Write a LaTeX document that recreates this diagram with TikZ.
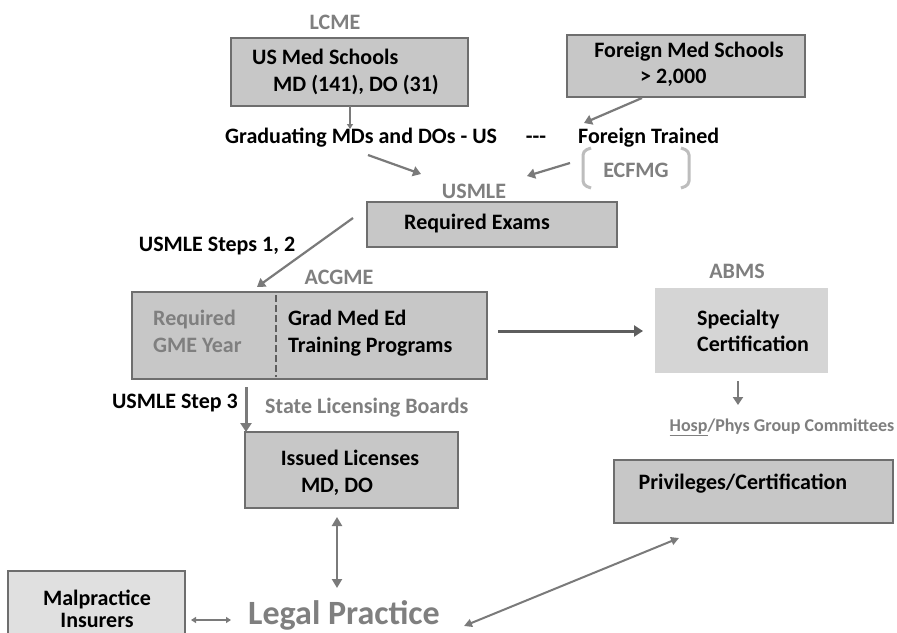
\documentclass[tikz,border=0pt]{standalone}
\usepackage{fontspec}
\setmainfont{Carlito}
\usetikzlibrary{arrows.meta}
\definecolor{boxfill}{HTML}{C7C7C7}
\definecolor{boxline}{HTML}{6E6E6E}
\definecolor{lightfill}{HTML}{D5D5D5}
\definecolor{palefill}{HTML}{E0E0E0}
\definecolor{labelgray}{HTML}{7F7F7F}
\definecolor{arrowgray}{HTML}{7A7A7A}
\definecolor{darkarrow}{HTML}{5E5E5E}
\definecolor{brack}{HTML}{BDBDBD}
\begin{document}
\begin{tikzpicture}[x=1pt,y=-1pt,
  every node/.style={font=\bfseries\fontsize{22}{26}\selectfont, inner sep=0pt},
  box/.style={draw=boxline, line width=1.2pt, fill=boxfill},
  lbl/.style={text=labelgray, anchor=base},
  txt/.style={text=black, anchor=base},
  conn/.style={draw=arrowgray, line width=2.2pt, -{Triangle[width=10pt,length=8pt]}},
  thinconn/.style={draw=arrowgray, line width=1.3pt, -{Triangle[width=6pt,length=5pt]}},
  thick conn/.style={draw=darkarrow, line width=3pt, -{Triangle[width=11pt,length=9pt]}},
  dbl/.style={draw=arrowgray, line width=2.4pt, {Triangle[width=10pt,length=9pt]}-{Triangle[width=10pt,length=9pt]}},
]
\useasboundingbox[fill=white] (0,0) rectangle (897,632);

% boxes
\node[box, minimum width=237pt, minimum height=68pt] (us) at (349.5,72) {};
\node[box, minimum width=238pt, minimum height=62pt] (foreign) at (686,66) {};
\node[box, minimum width=250pt, minimum height=45pt] (req) at (492,224.5) {};
\node[box, minimum width=355pt, minimum height=87pt] (acgme) at (309.5,335.5) {};
\node[draw=none, fill=lightfill, minimum width=173pt, minimum height=85pt] (spec) at (741.5,330.5) {};
\node[box, minimum width=279pt, minimum height=63pt] (priv) at (753.5,491.5) {};
\node[box, minimum width=213pt, minimum height=76pt] (issued) at (351.5,470) {};
\node[draw=boxline, line width=1.2pt, fill=palefill, minimum width=177pt, minimum height=80pt] (mal) at (96.5,611) {};

% texts in boxes
\node[txt, anchor=base west] (usA) at (252,64) {US Med Schools};
\node[txt, anchor=base west] (usB) at (273,91) {MD (141), DO (31)};
\node[txt] (foA) at (689,57) {Foreign Med Schools};
\node[txt, anchor=base west] (foB) at (640,83) {> 2,000};
\node[txt] (reqT) at (477,229) {Required Exams};
\node[lbl, anchor=base west] (gmeA) at (153,325) {Required};
\node[lbl, anchor=base west] (gmeB) at (153,352) {GME Year};
\node[txt, anchor=base west] (gradA) at (288,325) {Grad Med Ed};
\node[txt, anchor=base west] (gradB) at (288,352) {Training Programs};
\node[txt, anchor=base west] (specA) at (697,325) {Specialty};
\node[txt, anchor=base west] (specB) at (697,351) {Certification};
\node[txt] (privT) at (743,489) {Privileges/Certification};
\node[txt] (issA) at (350,465) {Issued Licenses};
\node[txt] (issB) at (337,492) {MD, DO};
\node[txt] (malA) at (97,605) {Malpractice};
\node[txt] (malB) at (97,627) {Insurers};

% free labels
\node[lbl] (lcme) at (335,29) {LCME};
\node[txt, anchor=base west] (gradmd) at (225,143) {Graduating MDs and DOs - US};
\node[txt] (dashes) at (536,143) {-{}-{}-};
\node[txt, anchor=base west] (ftrained) at (578,143) {Foreign Trained};
\node[lbl] (ecfmg) at (636,177) {ECFMG};
\node[lbl] (usmle) at (474,198) {USMLE};
\node[txt] (steps12) at (217,251) {USMLE Steps 1, 2};
\node[lbl] (acgmeL) at (339,284) {ACGME};
\node[lbl] (abms) at (737,278) {ABMS};
\node[lbl, font=\bfseries\fontsize{18}{22}\selectfont] (hosp) at (782,431) {\underline{Hosp}/Phys Group Committees};
\node[txt, anchor=base east] (step3) at (238,408) {USMLE Step 3};
\node[lbl, anchor=base west] (slb) at (265,413) {State Licensing Boards};
\node[lbl, anchor=base west, font=\bfseries\fontsize{34}{38}\selectfont] (legal) at (248,624) {Legal Practice};

% ECFMG brackets
\draw[brack, line width=3pt, rounded corners=4pt] (591,148) -- (583,151) -- (583,185) -- (591,188);
\draw[brack, line width=3pt, rounded corners=4pt] (681,148) -- (689,151) -- (689,185) -- (681,188);

% dashed divider
\coordinate (divT) at (276,295);
\coordinate (divB) at (276,377);
\draw[darkarrow, line width=2.6pt, dash pattern=on 7pt off 3pt] (divT) -- (divB);

% connector coordinates
\coordinate (a1s) at (350,106);
\coordinate (a1e) at (350,129);
\coordinate (a2s) at (642,98);
\coordinate (a2e) at (584,123);
\coordinate (a3s) at (368,155);
\coordinate (a3e) at (421,174);
\coordinate (a4s) at (570,163);
\coordinate (a4e) at (527,176);
\coordinate (a5s) at (353,218);
\coordinate (a5e) at (257,287);
\coordinate (a6s) at (498,331);
\coordinate (a6e) at (643,331);
\coordinate (a7s) at (738,381);
\coordinate (a7e) at (738,405);
\coordinate (a8s) at (246,387);
\coordinate (a8e) at (246,432);
\coordinate (d1s) at (337,517);
\coordinate (d1e) at (337,588);
\coordinate (d2s) at (191,620);
\coordinate (d2e) at (231,620);
\coordinate (d3s) at (464,626);
\coordinate (d3e) at (679,538);

\draw[thinconn] (a1s) -- (a1e);
\draw[conn] (a2s) -- (a2e);
\draw[conn] (a3s) -- (a3e);
\draw[conn] (a4s) -- (a4e);
\draw[conn] (a5s) -- (a5e);
\draw[thick conn] (a6s) -- (a6e);
\draw[conn] (a7s) -- (a7e);
\draw[thick conn, draw=arrowgray] (a8s) -- (a8e);
\draw[dbl] (d1s) -- (d1e);
\draw[draw=arrowgray, line width=1.8pt, {Triangle[width=6pt,length=5pt]}-{Triangle[width=6pt,length=5pt]}] (d2s) -- (d2e);
\draw[draw=arrowgray, line width=2pt, {Triangle[width=8pt,length=8pt]}-{Triangle[width=8pt,length=8pt]}] (d3s) -- (d3e);
\end{tikzpicture}
\end{document}
